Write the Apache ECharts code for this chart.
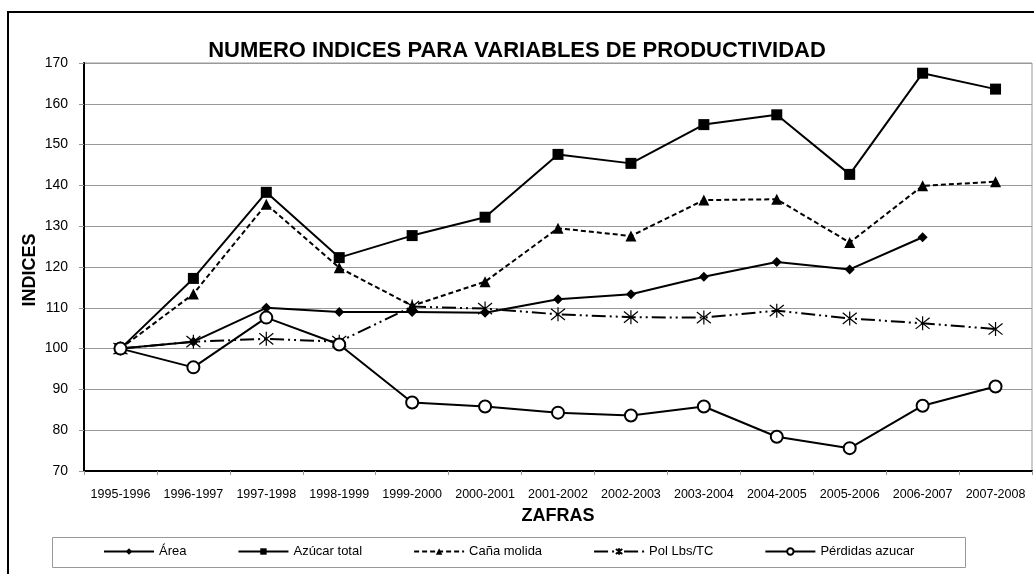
<!DOCTYPE html>
<html>
<head>
<meta charset="utf-8">
<script src="https://cdn.jsdelivr.net/npm/echarts@6/dist/echarts.min.js"></script>
<style>
  html, body { margin: 0; padding: 0; background: #fff; }
  #chart { width: 1034px; height: 574px; }
</style>
</head>
<body>
<div id="chart"></div>
<script>
const zafras = ['1995-1996', '1996-1997', '1997-1998', '1998-1999', '1999-2000', '2000-2001',
  '2001-2002', '2002-2003', '2003-2004', '2004-2005', '2005-2006', '2006-2007', '2007-2008'];

const area = [100, 101.7, 110, 109, 109, 108.8, 112.1, 113.3, 117.6, 121.2, 119.4, 127.3, null];
const azucarTotal = [100, 117.2, 138.3, 122.3, 127.7, 132.2, 147.6, 145.4, 154.9, 157.3, 142.7, 167.5, 163.6];
const canaMolida = [100, 113.4, 135.4, 119.8, 110.5, 116.4, 129.5, 127.6, 136.4, 136.6, 126, 139.9, 140.9];
const polLbsTC = [100, 101.7, 102.4, 101.7, 110.3, 109.8, 108.4, 107.7, 107.6, 109.3, 107.4, 106.2, 104.8];
const perdidas = [100, 95.4, 107.6, 101, 86.8, 85.8, 84.3, 83.6, 85.8, 78.4, 75.6, 86, 90.7];

const yTicks = { min: 70, max: 170, step: 10 };

const FONT = 'Arial, "Liberation Sans", sans-serif';
const asterisk = 'path://M0,-1L0,1M-0.8,-0.8L0.8,0.8M-0.8,0.8L0.8,-0.8';

const chart = echarts.init(document.getElementById('chart'));

function lineSeries(name, data, symbol, size, lineType, extra) {
  return Object.assign({
    name: name,
    type: 'line',
    data: data,
    symbol: symbol,
    symbolSize: size,
    showAllSymbol: true,
    color: '#000',
    lineStyle: { color: '#000', width: 2, type: lineType },
    itemStyle: { color: '#000' },
    emphasis: { disabled: true },
    animation: false
  }, extra || {});
}

const option = {
  animation: false,
  backgroundColor: '#fff',
  textStyle: { fontFamily: FONT },
  title: {
    text: 'NUMERO INDICES PARA VARIABLES DE PRODUCTIVIDAD',
    left: 'center',
    top: 40,
    padding: 0,
    textStyle: { fontFamily: FONT, fontSize: 22, fontWeight: 'bold', color: '#000' }
  },
  legend: {
    left: 103,
    top: 545,
    padding: 0,
    itemWidth: 50,
    itemHeight: 8,
    itemGap: 51,
    textStyle: { fontFamily: FONT, fontSize: 13, color: '#000' },
    data: ['Área', 'Azúcar total', 'Caña molida', 'Pol Lbs/TC', 'Pérdidas azucar']
  },
  grid: {
    left: 84, right: 2, top: 63, bottom: 103,
    show: true, borderColor: '#999', borderWidth: 1,
    containLabel: false
  },
  xAxis: {
    type: 'category',
    data: zafras,
    boundaryGap: true,
    name: 'ZAFRAS',
    nameLocation: 'middle',
    nameGap: 36,
    nameTextStyle: { fontFamily: FONT, fontSize: 18, fontWeight: 'bold', color: '#000' },
    axisLine: { lineStyle: { color: '#000', width: 2 } },
    axisTick: { show: true, interval: 0, length: 4, lineStyle: { color: '#999' } },
    axisLabel: { interval: 0, margin: 17, fontSize: 12.5, color: '#000', fontFamily: FONT },
    splitLine: { show: false }
  },
  yAxis: {
    type: 'value',
    min: yTicks.min,
    max: yTicks.max,
    interval: yTicks.step,
    axisLine: { show: true, lineStyle: { color: '#000', width: 2 } },
    axisTick: { show: true, length: 5, lineStyle: { color: '#999' } },
    axisLabel: { margin: 16, fontSize: 14, color: '#000', fontFamily: FONT },
    splitLine: { show: true, lineStyle: { color: '#999', width: 1 } }
  },
  graphic: [
    {
      type: 'rect', silent: true, z: -1,
      shape: { x: 8, y: 12, width: 1040, height: 580 },
      style: { fill: 'none', stroke: '#000', lineWidth: 2 }
    },
    {
      type: 'rect', silent: true,
      shape: { x: 52.5, y: 537.5, width: 913, height: 30 },
      style: { fill: 'none', stroke: '#999', lineWidth: 1 }
    },
    {
      type: 'text', silent: true,
      x: 30, y: 270, rotation: Math.PI / 2,
      style: {
        text: 'INDICES', fontFamily: FONT, fontSize: 18, fontWeight: 'bold',
        fill: '#000', align: 'center', verticalAlign: 'middle'
      }
    }
  ],
  series: [
    lineSeries('Área', area, 'diamond', 10, 'solid'),
    lineSeries('Azúcar total', azucarTotal, 'rect', 11, 'solid'),
    lineSeries('Caña molida', canaMolida, 'triangle', 11, [5, 3]),
    lineSeries('Pol Lbs/TC', polLbsTC, asterisk, 14, [14, 4, 2, 4, 2, 4], {
      itemStyle: { color: '#000', borderColor: '#000', borderWidth: 1.2 }
    }),
    lineSeries('Pérdidas azucar', perdidas, 'emptyCircle', 12, 'solid', {
      itemStyle: { color: '#000', borderColor: '#000', borderWidth: 1.2 }
    })
  ]
};

chart.setOption(option);
</script>
</body>
</html>
